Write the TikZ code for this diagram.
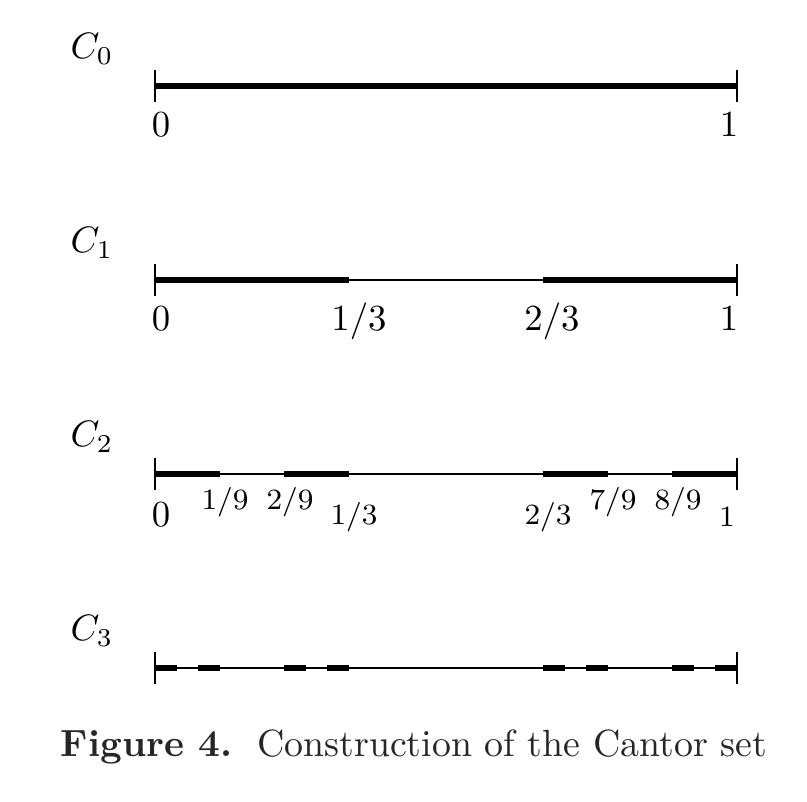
\documentclass[tikz,border=0pt]{standalone}
\usepackage{tikz}
\usetikzlibrary{calc}
\tikzset{
  base/.style={line width=0.4pt},
  seg/.style={line width=1.7pt, line cap=butt},
  tick/.style={line width=0.45pt},
  lvl/.style={font=\normalsize, inner sep=0pt},
  num/.style={font=\normalsize, inner sep=0pt, anchor=base},
  snum/.style={font=\footnotesize, inner sep=0pt, anchor=base},
  capt/.style={font=\fontsize{10.3}{12}\selectfont, inner sep=0pt, anchor=base, text=black!85}
}

\begin{document}
\begin{tikzpicture}[x=0.272pt, y=-0.272pt]
\useasboundingbox (0,0) rectangle (807,802);
% the four stages
\foreach \k in {0,1,2,3} {
  \coordinate (l\k) at (155,{86+194*\k});
  \coordinate (r\k) at (737,{86+194*\k});
  \draw[base] (l\k) -- (r\k);
  \draw[tick] ($(l\k)+(0,-16)$) -- ($(l\k)+(0,16)$);
  \draw[tick] ($(r\k)+(0,-16)$) -- ($(r\k)+(0,16)$);
  \node[lvl] (c\k) at (92,{49+194*\k}) {$C_{\k}$};
}
\draw[seg] (l0) -- (r0);
\foreach \a/\b in {0/1,2/3}
  \draw[seg] ({155+582*\a/3},280) -- ({155+582*\b/3},280);
\foreach \a/\b in {0/1,2/3,6/7,8/9}
  \draw[seg] ({155+582*\a/9},474) -- ({155+582*\b/9},474);
\foreach \a/\b in {0/1,2/3,6/7,8/9,18/19,20/21,24/25,26/27}
  \draw[seg] ({155+582*\a/27},668) -- ({155+582*\b/27},668);
% labels
\node[num] (a0) at (161,137) {$0$};
\node[num] (a1) at (729,137) {$1$};
\node[num] (b0) at (161,331) {$0$};
\node[num] (b1) at (359,331) {$1/3$};
\node[num] (b2) at (552,331) {$2/3$};
\node[num] (b3) at (729,331) {$1$};
\node[num] (d0) at (161,527) {$0$};
\node[snum] (d1) at (225,510) {$1/9$};
\node[snum] (d2) at (290,510) {$2/9$};
\node[snum] (d3) at (354,525) {$1/3$};
\node[snum] (d4) at (548,525) {$2/3$};
\node[snum] (d5) at (613,510) {$7/9$};
\node[snum] (d6) at (678,510) {$8/9$};
\node[snum] (d7) at (727,527) {$1$};
\node[capt] (cap) at (414,757) {\textbf{Figure 4.}\hspace{0.65em}Construction of the Cantor set};
\end{tikzpicture}
\end{document}
